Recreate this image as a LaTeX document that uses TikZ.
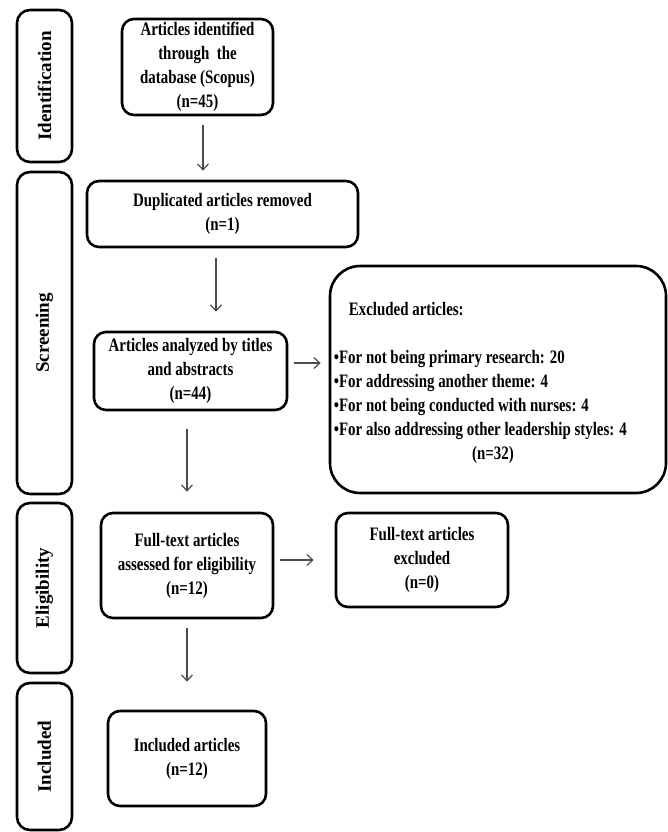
\documentclass[tikz,border=0pt]{standalone}
\usepackage{fontspec}
\setmainfont{Liberation Serif}[FakeStretch=0.785]
\newfontfamily\phasefont{Liberation Serif}
\usetikzlibrary{arrows.meta,positioning}
\tikzset{
  boxfont/.style={font=\bfseries\fontsize{19}{24}\selectfont},
  box/.style={draw=black, line width=2.6pt, rounded corners=12pt, align=center,
    inner sep=2pt, boxfont},
  phase/.style={draw=black, line width=2.6pt, rounded corners=13pt,
    minimum width=55pt, inner sep=0pt},
  phasetext/.style={rotate=90, font=\phasefont\bfseries\fontsize{19}{22}\selectfont},
  arr/.style={draw=black!70, line width=1.2pt, -{Straight Barb[length=6pt,width=11pt]}}
}
\begin{document}
\begin{tikzpicture}[x=1pt,y=-1pt]
\useasboundingbox (0,0) rectangle (668,832);
% phase boxes
\node[phase, minimum height=152pt] (pid) at (44.5,86) {};
\node[phasetext] (tid) at (pid.center) {Identification};
\node[phase, minimum height=322pt] (psc) at (44.5,333) {};
\node[phasetext] (tsc) at (psc.center) {Screening};
\node[phase, minimum height=170pt] (pel) at (44.5,588) {};
\node[phasetext] (tel) at (pel.center) {Eligibility};
\node[phase, minimum height=147pt] (pin) at (44.5,756.5) {};
\node[phasetext] (tin) at (pin.center) {Included};
% main boxes
\node[box, minimum width=151pt, minimum height=96pt] (b1) at (197.5,67)
  {Articles identified\\through\ \ the\\database (Scopus)\\(n=45)};
\node[box, minimum width=271pt, minimum height=66pt] (b2) at (222.5,214)
  {Duplicated articles removed\\(n=1)};
\node[box, minimum width=193pt, minimum height=78pt] (b3) at (190.5,371)
  {Articles analyzed by titles\\and abstracts\\(n=44)};
\node[box, rounded corners=30pt, minimum width=336pt, minimum height=227pt] (ex) at (498,379.5) {};
\node[boxfont, text width=318pt, align=flush left, inner sep=0pt, anchor=north west] (ext)
  at ([shift={(5,37)}]ex.north west)
  {\hspace*{15pt}Excluded articles:\\
   \mbox{}\\
   •For not being primary research: 20\\
   •For addressing another theme: 4\\
   •For not being conducted with nurses: 4\\
   •For also addressing other leadership styles: 4\\
   \makebox[318pt]{(n=32)}};
\node[box, minimum width=172pt, minimum height=105pt] (b4) at (187,565.5)
  {Full-text articles\\assessed for eligibility\\(n=12)};
\node[box, minimum width=172pt, minimum height=94pt] (b5) at (422,560)
  {Full-text articles\\excluded\\(n=0)};
\node[box, minimum width=158pt, minimum height=95pt] (b6) at (187,758.5)
  {Included articles\\(n=12)};
% arrows
\draw[arr] ([shift={(5.5,9)}]b1.south) -- ([shift={(-19.5,-9)}]b2.north);
\draw[arr] ([shift={(-6.5,10)}]b2.south) -- ([shift={(25.5,-19)}]b3.north);
\draw[arr] ([shift={(6,-8)}]b3.east) -- ([shift={(-8,-16.5)}]ex.west);
\draw[arr] ([shift={(-3.5,18)}]b3.south) -- ([shift={(0,-20)}]b4.north);
\draw[arr] ([shift={(6,-5.5)}]b4.east) -- ([shift={(-21,0)}]b5.west);
\draw[arr] ([shift={(0,9)}]b4.south) -- ([shift={(0,-28)}]b6.north);
\end{tikzpicture}
\end{document}
